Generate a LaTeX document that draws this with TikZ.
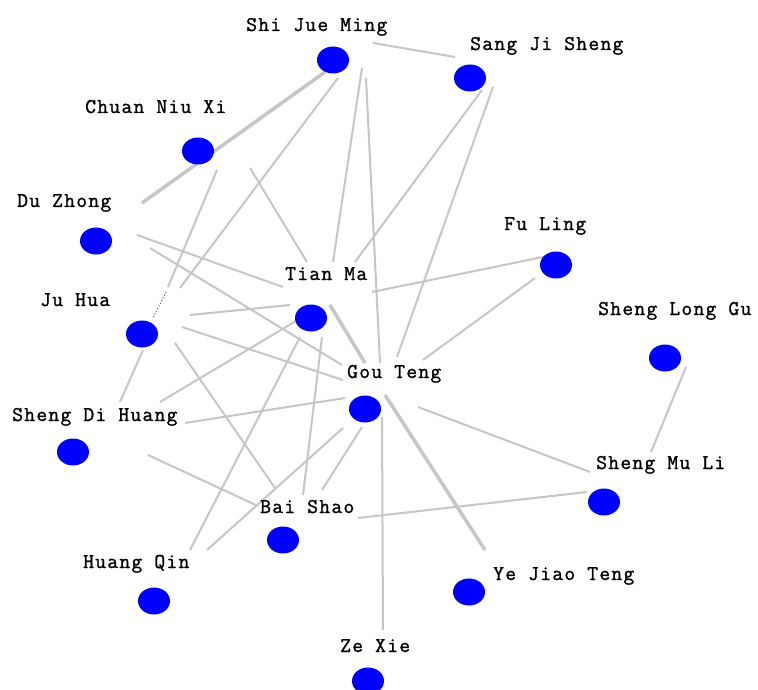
\documentclass[tikz,border=0pt]{standalone}
\usepackage{fontspec}
\usetikzlibrary{shapes.geometric}
\setmonofont{Latin Modern Mono}[LetterSpace=6, FakeBold=1.2]
\definecolor{edgegray}{RGB}{198,198,198}
\definecolor{dotblue}{RGB}{0,0,255}
\tikzset{
  herb/.style={shape=ellipse, fill=dotblue, draw=none, minimum width=32pt, minimum height=27pt, inner sep=0pt},
  lbl/.style={anchor=base west, inner sep=0pt, font=\ttfamily\fontsize{21pt}{23pt}\selectfont, text=black},
  link/.style={draw=edgegray, line width=2pt},
  boldlink/.style={draw=edgegray, line width=3.5pt},
  dotlink/.style={draw=black!70, line width=1pt, dotted}
}
\begin{document}
\begin{tikzpicture}[x=1pt, y=-1pt]
\useasboundingbox (0,0) rectangle (758,690);
\fill[white] (0,0) rectangle (758,690);

% edge end points
\coordinate (e1a) at (325,72);  \coordinate (e1b) at (142,203);
\coordinate (e2a) at (338,78);  \coordinate (e2b) at (180,288);
\coordinate (e3a) at (362,68);  \coordinate (e3b) at (333,262);
\coordinate (e4a) at (366,78);  \coordinate (e4b) at (380,363);
\coordinate (e5a) at (373,43);  \coordinate (e5b) at (455,57);
\coordinate (e6a) at (217,170); \coordinate (e6b) at (168,287);
\coordinate (e6c) at (166,292); \coordinate (e6d) at (153,318);
\coordinate (e6e) at (143,350); \coordinate (e6f) at (120,402);
\coordinate (e7a) at (250,168); \coordinate (e7b) at (307,262);
\coordinate (e8a) at (137,235); \coordinate (e8b) at (283,287);
\coordinate (e9a) at (150,248); \coordinate (e9b) at (342,365);
\coordinate (e10a) at (482,90); \coordinate (e10b) at (355,262);
\coordinate (e11a) at (493,87); \coordinate (e11b) at (397,357);
\coordinate (e12a) at (548,256); \coordinate (e12b) at (372,292);
\coordinate (e13a) at (535,278); \coordinate (e13b) at (423,360);
\coordinate (e14a) at (190,315); \coordinate (e14b) at (290,305);
\coordinate (e15a) at (182,327); \coordinate (e15b) at (343,380);
\coordinate (e16a) at (330,305); \coordinate (e16b) at (365,363);
\coordinate (e17a) at (160,402); \coordinate (e17b) at (296,321);
\coordinate (e18a) at (185,423); \coordinate (e18b) at (345,398);
\coordinate (e19a) at (175,343); \coordinate (e19b) at (275,488);
\coordinate (e20a) at (148,455); \coordinate (e20b) at (258,506);
\coordinate (e21a) at (190,550); \coordinate (e21b) at (300,337);
\coordinate (e22a) at (207,550); \coordinate (e22b) at (343,428);
\coordinate (e23a) at (303,495); \coordinate (e23b) at (322,337);
\coordinate (e24a) at (322,490); \coordinate (e24b) at (362,427);
\coordinate (e25a) at (358,518); \coordinate (e25b) at (587,492);
\coordinate (e26a) at (418,407); \coordinate (e26b) at (590,472);
\coordinate (e27a) at (686,367); \coordinate (e27b) at (651,452);
\coordinate (e28a) at (385,395); \coordinate (e28b) at (485,550);
\coordinate (e29a) at (382,417); \coordinate (e29b) at (383,630);

% connectors
\draw[boldlink] (e1a) -- (e1b);
\draw[link] (e2a) -- (e2b);
\draw[link] (e3a) -- (e3b);
\draw[link] (e4a) -- (e4b);
\draw[link] (e5a) -- (e5b);
\draw[link] (e6a) -- (e6b);
\draw[dotlink] (e6c) -- (e6d);
\draw[link] (e6e) -- (e6f);
\draw[link] (e7a) -- (e7b);
\draw[link] (e8a) -- (e8b);
\draw[link] (e9a) -- (e9b);
\draw[link] (e10a) -- (e10b);
\draw[link] (e11a) -- (e11b);
\draw[link] (e12a) -- (e12b);
\draw[link] (e13a) -- (e13b);
\draw[link] (e14a) -- (e14b);
\draw[link] (e15a) -- (e15b);
\draw[boldlink] (e16a) -- (e16b);
\draw[link] (e17a) -- (e17b);
\draw[link] (e18a) -- (e18b);
\draw[link] (e19a) -- (e19b);
\draw[link] (e20a) -- (e20b);
\draw[link] (e21a) -- (e21b);
\draw[link] (e22a) -- (e22b);
\draw[link] (e23a) -- (e23b);
\draw[link] (e24a) -- (e24b);
\draw[link] (e25a) -- (e25b);
\draw[link] (e26a) -- (e26b);
\draw[link] (e27a) -- (e27b);
\draw[boldlink] (e28a) -- (e28b);
\draw[link] (e29a) -- (e29b);

% herbs (dots)
\node[herb] (sjm) at (333,60) {};
\node[herb] (sjs) at (470,78) {};
\node[herb] (cnx) at (198,151) {};
\node[herb] (dz)  at (96,241) {};
\node[herb] (fl)  at (556,265) {};
\node[herb] (tm)  at (311,318) {};
\node[herb] (jh)  at (142,334) {};
\node[herb] (slg) at (665,358) {};
\node[herb] (gt)  at (365,409) {};
\node[herb] (sdh) at (73,452) {};
\node[herb] (sml) at (604,502) {};
\node[herb] (bs)  at (283,540) {};
\node[herb] (hq)  at (154,601) {};
\node[herb] (yjt) at (469,592) {};
\node[herb] (zx)  at (368,681) {};

% labels
\node[lbl] (sjm-l) at (246,31) {Shi Jue Ming};
\node[lbl] (sjs-l) at (470,50) {Sang Ji Sheng};
\node[lbl] (cnx-l) at (85,113) {Chuan Niu Xi};
\node[lbl] (dz-l)  at (17,207) {Du Zhong};
\node[lbl] (fl-l)  at (504,230) {Fu Ling};
\node[lbl] (tm-l)  at (285,280) {Tian Ma};
\node[lbl] (jh-l)  at (40,306) {Ju Hua};
\node[lbl] (slg-l) at (598,315) {Sheng Long Gu};
\node[lbl] (gt-l)  at (347,378) {Gou Teng};
\node[lbl] (sdh-l) at (12,421) {Sheng Di Huang};
\node[lbl] (sml-l) at (596,469) {Sheng Mu Li};
\node[lbl] (bs-l)  at (260,513) {Bai Shao};
\node[lbl] (hq-l)  at (83,568) {Huang Qin};
\node[lbl] (yjt-l) at (493,580) {Ye Jiao Teng};
\node[lbl] (zx-l)  at (340,652) {Ze Xie};
\end{tikzpicture}
\end{document}
